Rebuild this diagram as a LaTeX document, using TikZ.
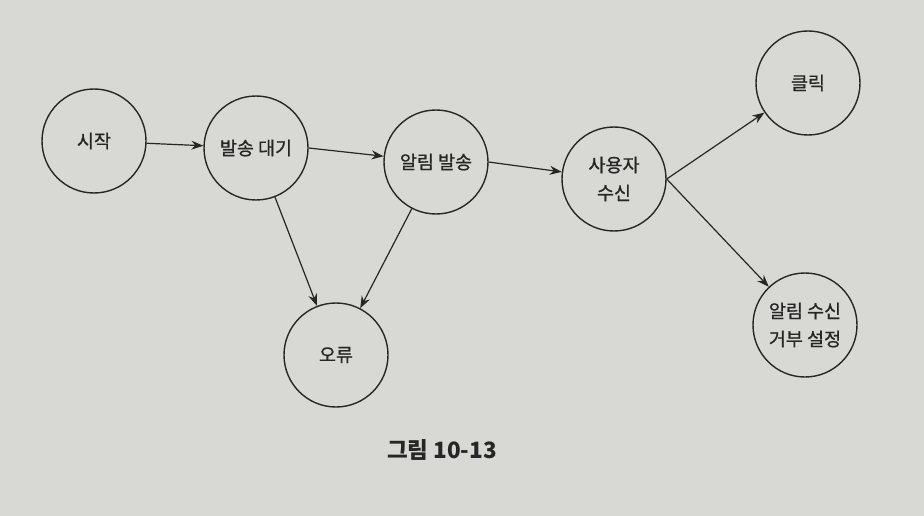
\documentclass[tikz,border=0pt]{standalone}
\usepackage{fontspec}
\setmainfont{Noto Sans CJK KR}
\newfontfamily\labelfont[FakeBold=0.8]{Noto Sans CJK KR}
\usetikzlibrary{arrows.meta}
\definecolor{paper}{RGB}{216,216,212}
\definecolor{ink}{RGB}{38,38,38}
\begin{document}
\begin{tikzpicture}[x=1pt,y=-1pt,
  state/.style={circle,draw=ink,line width=1.4pt,fill=paper,minimum size=104pt,inner sep=0pt,
    font=\labelfont\fontsize{18.5}{28}\selectfont,text=ink,align=center},
  conn/.style={draw=ink,line width=1.2pt,-{Stealth[length=12pt,width=9pt]}}]
\fill[paper] (0,0) rectangle (924,516);
\useasboundingbox (0,0) rectangle (924,516);
\node[state] (start) at (94,141) {시작};
\node[state] (wait) at (256,148) {발송 대기};
\node[state] (send) at (436,162) {알림 발송};
\node[state] (recv) at (614,179) {사용자\\수신};
\node[state] (click) at (808,83) {클릭};
\node[state] (optout) at (805,325) {알림 수신\\거부 설정};
\node[state] (err) at (336,355) {오류};
\node[font=\bfseries\fontsize{22.5}{26}\selectfont,text=ink] (cap) at (442,450) {그림 10-13};
\draw[conn] (start) -- (wait);
\draw[conn] (wait.east) -- (send);
\draw[conn] (send.east) -- (recv);
\draw[conn] (recv.east) -- (click);
\draw[conn] (recv.east) -- (optout);
\draw[conn] (wait) -- (err);
\draw[conn] (send) -- (err);
\end{tikzpicture}
\end{document}
